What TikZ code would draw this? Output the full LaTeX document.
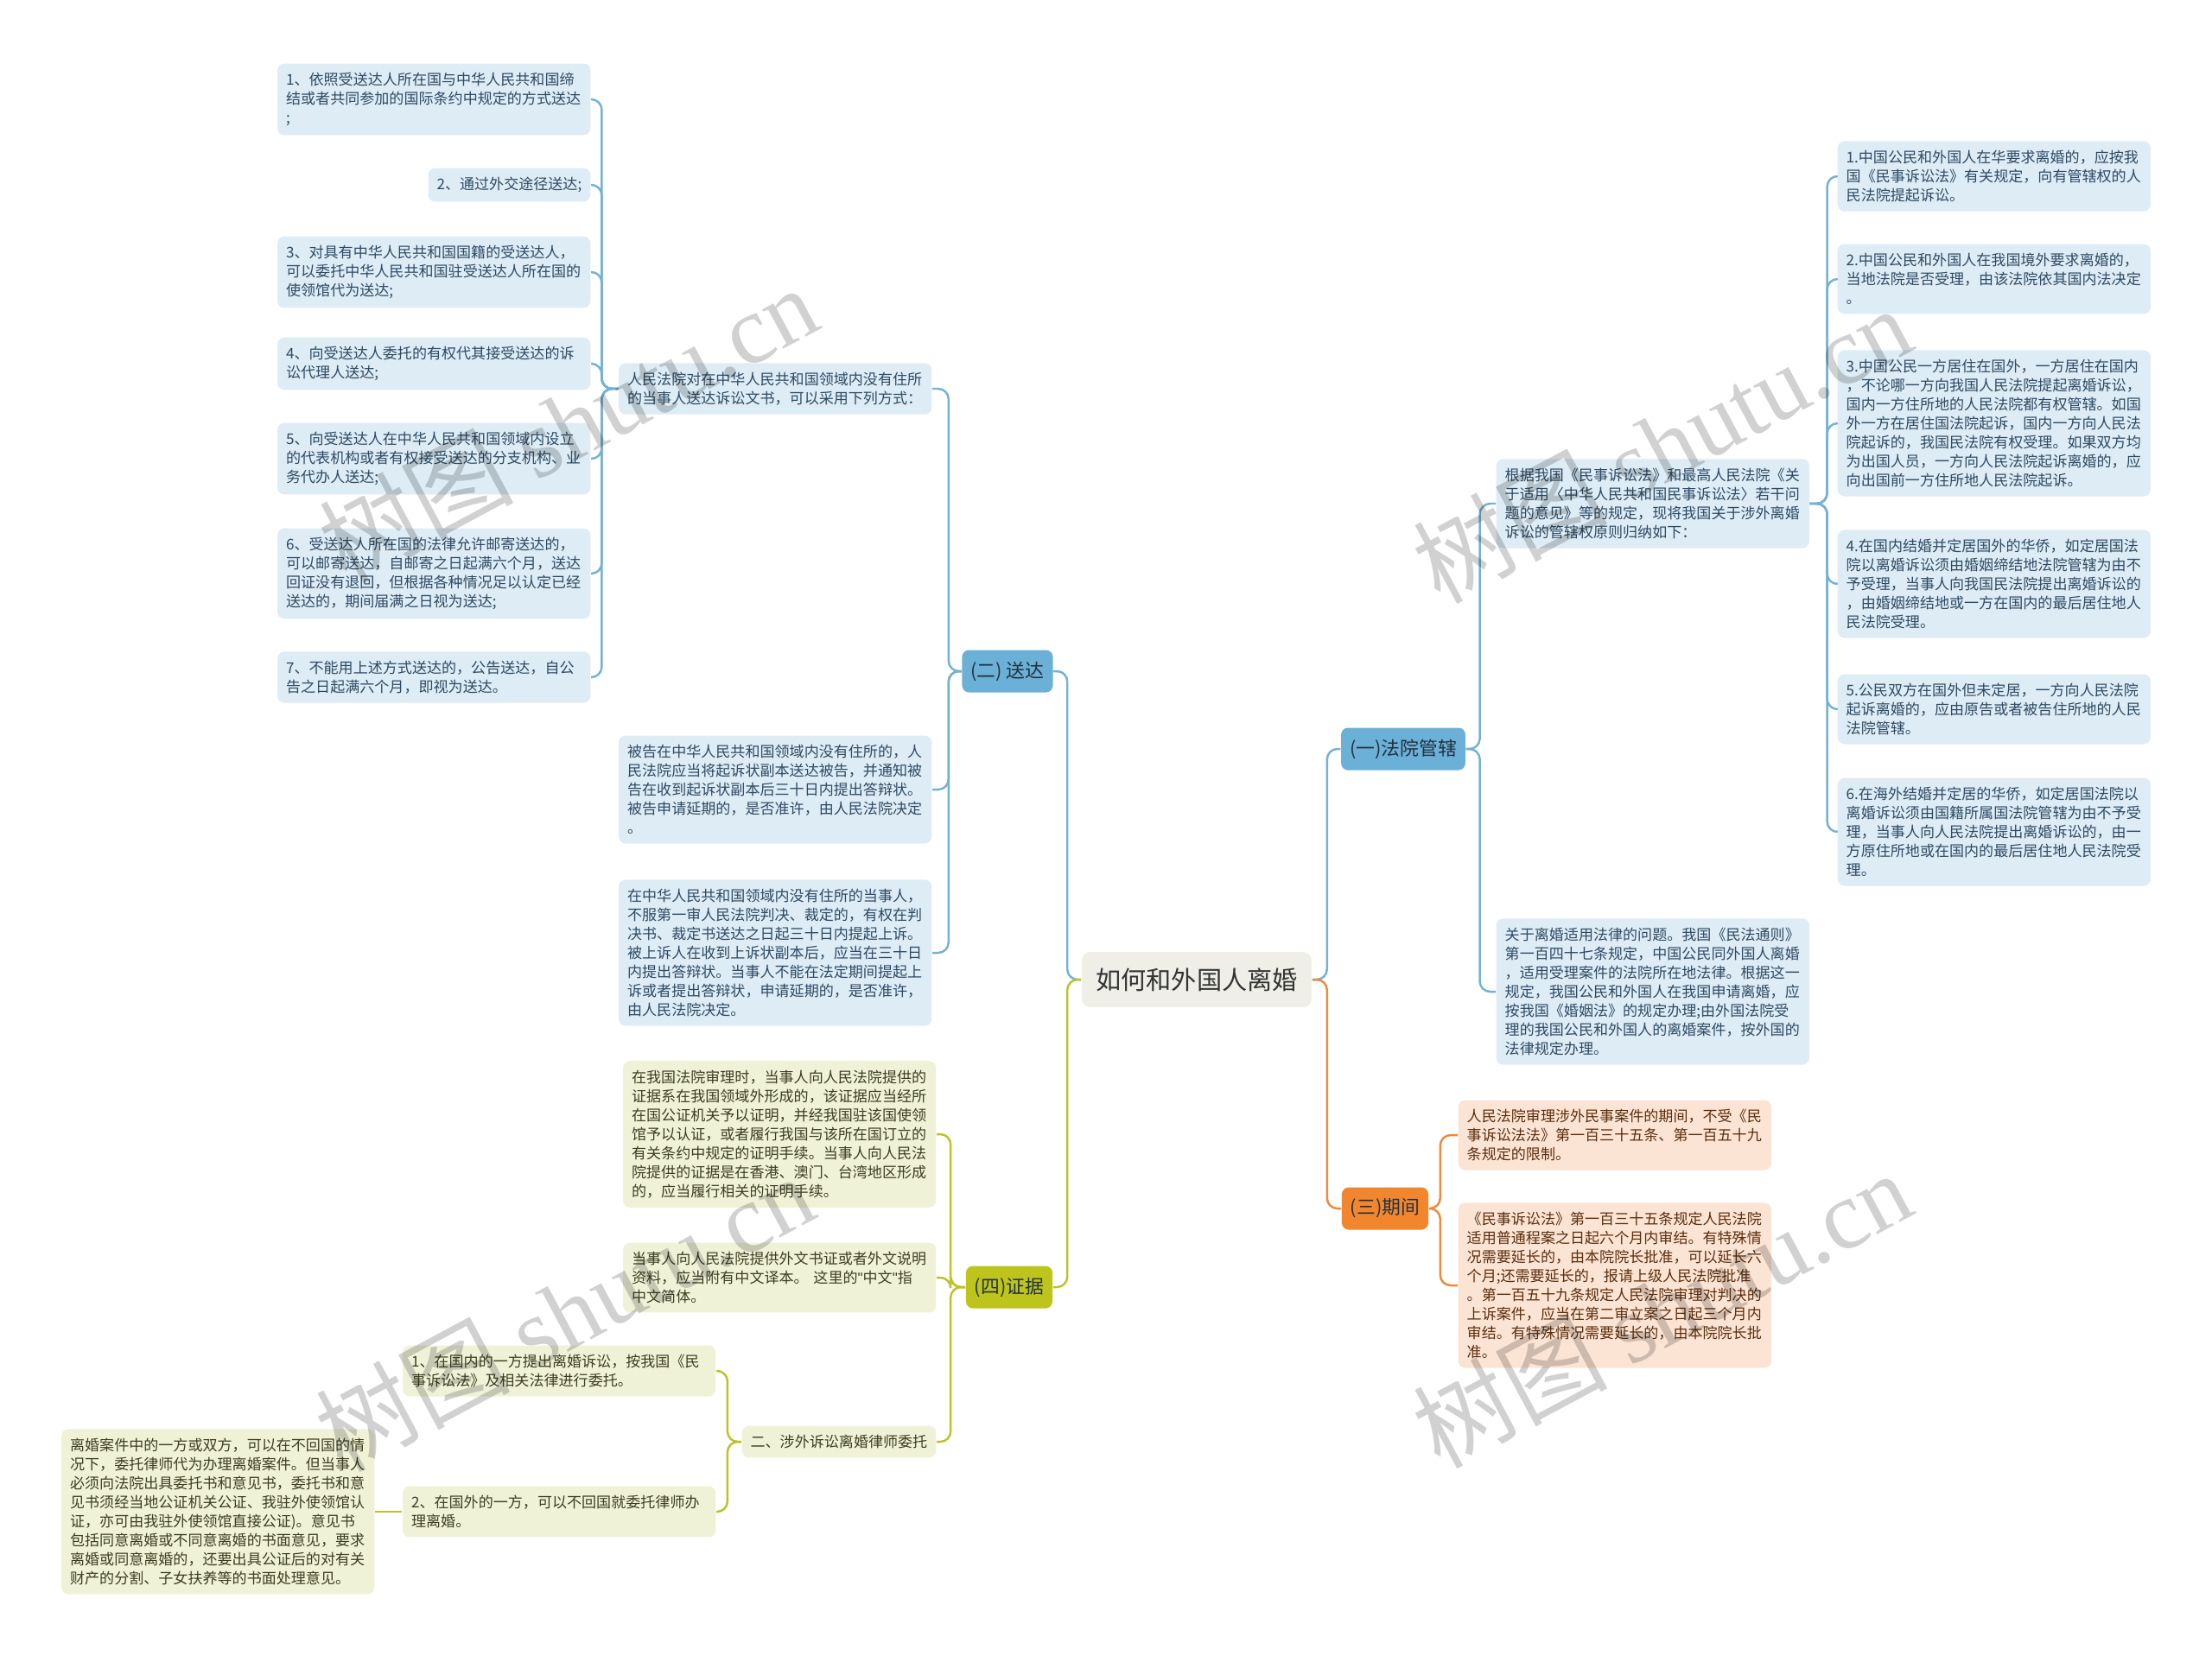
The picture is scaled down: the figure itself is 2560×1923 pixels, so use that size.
\documentclass[tikz,border=0pt]{standalone}
\usepackage{fontspec}
\setmainfont{Noto Sans CJK SC}
\newfontfamily\wmfont{Liberation Serif}
\newfontfamily\quotefont{Liberation Sans}

\definecolor{rootfill}{HTML}{EFEFE8}
\definecolor{rootink}{HTML}{333333}
\definecolor{topicink}{HTML}{22313F}
\definecolor{bluetopic}{HTML}{6BB0D6}
\definecolor{greentopic}{HTML}{BDC51C}
\definecolor{orangetopic}{HTML}{F2862F}
\definecolor{bluefill}{HTML}{DDECF5}
\definecolor{blueink}{HTML}{2E4A62}
\definecolor{greenfill}{HTML}{F0F2D8}
\definecolor{greenink}{HTML}{3D3D1F}
\definecolor{orangefill}{HTML}{FCE4D4}
\definecolor{orangeink}{HTML}{5A2E0E}
\definecolor{blueline}{HTML}{74B2D4}
\definecolor{greenline}{HTML}{BCC32A}
\definecolor{orangeline}{HTML}{EE8A3A}

\begin{document}
\begin{tikzpicture}[
    x=0.01cm, y=-0.01cm,
    rootbox/.style={fill=rootfill, rounded corners=0.1cm, text=rootink, font=\fontsize{8.3pt}{10pt}\selectfont, minimum width=2.66cm, minimum height=0.64cm},
    topic/.style={rounded corners=0.08cm, text=topicink, font=\fontsize{6.2pt}{7.5pt}\selectfont, minimum height=0.49cm, inner xsep=0.1cm},
    leaf/.style={rounded corners=0.08cm, align=left, inner xsep=0.1cm, inner ysep=0.105cm, font=\fontsize{4.85pt}{6.27pt}\selectfont, execute at end node={\vphantom{国}}},
    wide/.style={text width=3.42cm},
    bleaf/.style={leaf, fill=bluefill, text=blueink},
    gleaf/.style={leaf, fill=greenfill, text=greenink},
    oleaf/.style={leaf, fill=orangefill, text=orangeink},
    bline/.style={draw=blueline, line width=0.7pt, rounded corners=0.12cm},
    gline/.style={draw=greenline, line width=0.7pt, rounded corners=0.12cm},
    oline/.style={draw=orangeline, line width=0.7pt, rounded corners=0.12cm},
    watermark/.style={font=\fontsize{32pt}{32pt}\selectfont, text=black, text opacity=0.18, rotate=28.2}
]

% 画布大小与参考图一致
\useasboundingbox (0,0) rectangle (2560,1923);

% 中心主题
\node[rootbox] (root) at (1385,1134) {如何和外国人离婚};

% 一级分支
\node[topic, fill=bluetopic] (sd) at (1166,777) {(二) 送达};
\node[topic, fill=greentopic] (zj) at (1168,1490) {(四)证据};
\node[topic, fill=bluetopic] (gx) at (1624,867) {(一)法院管辖};
\node[topic, fill=orangetopic] (qj) at (1603,1399) {(三)期间};

% (二) 送达
\node[bleaf, wide, anchor=east] (sdA) at (1079,450) {人民法院对在中华人民共和国领域内没有住所\\的当事人送达诉讼文书，可以采用下列方式：};
\node[bleaf, wide, anchor=east] (sdB) at (1079,914) {被告在中华人民共和国领域内没有住所的，人\\民法院应当将起诉状副本送达被告，并通知被\\告在收到起诉状副本后三十日内提出答辩状。\\被告申请延期的，是否准许，由人民法院决定\\。};
\node[bleaf, wide, anchor=east] (sdC) at (1079,1103) {在中华人民共和国领域内没有住所的当事人，\\不服第一审人民法院判决、裁定的，有权在判\\决书、裁定书送达之日起三十日内提起上诉。\\被上诉人在收到上诉状副本后，应当在三十日\\内提出答辩状。当事人不能在法定期间提起上\\诉或者提出答辩状，申请延期的，是否准许，\\由人民法院决定。};

% 送达方式
\node[bleaf, wide, anchor=east] (fs1) at (684,115) {1、依照受送达人所在国与中华人民共和国缔\\结或者共同参加的国际条约中规定的方式送达\\;};
\node[bleaf, anchor=east] (fs2) at (684,214) {2、通过外交途径送达;};
\node[bleaf, wide, anchor=east] (fs3) at (684,315) {3、对具有中华人民共和国国籍的受送达人，\\可以委托中华人民共和国驻受送达人所在国的\\使领馆代为送达;};
\node[bleaf, wide, anchor=east] (fs4) at (684,421) {4、向受送达人委托的有权代其接受送达的诉\\讼代理人送达;};
\node[bleaf, wide, anchor=east] (fs5) at (684,531) {5、向受送达人在中华人民共和国领域内设立\\的代表机构或者有权接受送达的分支机构、业\\务代办人送达;};
\node[bleaf, wide, anchor=east] (fs6) at (684,664) {6、受送达人所在国的法律允许邮寄送达的，\\可以邮寄送达，自邮寄之日起满六个月，送达\\回证没有退回，但根据各种情况足以认定已经\\送达的，期间届满之日视为送达;};
\node[bleaf, wide, anchor=east] (fs7) at (684,784) {7、不能用上述方式送达的，公告送达，自公\\告之日起满六个月，即视为送达。};

% (一)法院管辖
\node[bleaf, wide, anchor=west] (gxD) at (1731,583) {根据我国《民事诉讼法》和最高人民法院《关\\于适用〈中华人民共和国民事诉讼法〉若干问\\题的意见》等的规定，现将我国关于涉外离婚\\诉讼的管辖权原则归纳如下：};
\node[bleaf, wide, anchor=west] (gxE) at (1731,1148) {关于离婚适用法律的问题。我国《民法通则》\\第一百四十七条规定，中国公民同外国人离婚\\，适用受理案件的法院所在地法律。根据这一\\规定，我国公民和外国人在我国申请离婚，应\\按我国《婚姻法》的规定办理;由外国法院受\\理的我国公民和外国人的离婚案件，按外国的\\法律规定办理。};

% 管辖原则
\node[bleaf, wide, anchor=west] (gz1) at (2126,204) {1.中国公民和外国人在华要求离婚的，应按我\\国《民事诉讼法》有关规定，向有管辖权的人\\民法院提起诉讼。};
\node[bleaf, wide, anchor=west] (gz2) at (2126,323) {2.中国公民和外国人在我国境外要求离婚的，\\当地法院是否受理，由该法院依其国内法决定\\。};
\node[bleaf, wide, anchor=west] (gz3) at (2126,490) {3.中国公民一方居住在国外，一方居住在国内\\，不论哪一方向我国人民法院提起离婚诉讼，\\国内一方住所地的人民法院都有权管辖。如国\\外一方在居住国法院起诉，国内一方向人民法\\院起诉的，我国民法院有权受理。如果双方均\\为出国人员，一方向人民法院起诉离婚的，应\\向出国前一方住所地人民法院起诉。};
\node[bleaf, wide, anchor=west] (gz4) at (2126,676) {4.在国内结婚并定居国外的华侨，如定居国法\\院以离婚诉讼须由婚姻缔结地法院管辖为由不\\予受理，当事人向我国民法院提出离婚诉讼的\\，由婚姻缔结地或一方在国内的最后居住地人\\民法院受理。};
\node[bleaf, wide, anchor=west] (gz5) at (2126,821) {5.公民双方在国外但未定居，一方向人民法院\\起诉离婚的，应由原告或者被告住所地的人民\\法院管辖。};
\node[bleaf, wide, anchor=west] (gz6) at (2126,963) {6.在海外结婚并定居的华侨，如定居国法院以\\离婚诉讼须由国籍所属国法院管辖为由不予受\\理，当事人向人民法院提出离婚诉讼的，由一\\方原住所地或在国内的最后居住地人民法院受\\理。};

% (三)期间
\node[oleaf, wide, anchor=west] (qjF) at (1687,1314) {人民法院审理涉外民事案件的期间，不受《民\\事诉讼法法》第一百三十五条、第一百五十九\\条规定的限制。};
\node[oleaf, wide, anchor=west] (qjG) at (1687,1488) {《民事诉讼法》第一百三十五条规定人民法院\\适用普通程案之日起六个月内审结。有特殊情\\况需要延长的，由本院院长批准，可以延长六\\个月;还需要延长的，报请上级人民法院批准\\。第一百五十九条规定人民法院审理对判决的\\上诉案件，应当在第二审立案之日起三个月内\\审结。有特殊情况需要延长的，由本院院长批\\准。};

% (四)证据
\node[gleaf, wide, anchor=east] (zjH) at (1084,1313) {在我国法院审理时，当事人向人民法院提供的\\证据系在我国领域外形成的，该证据应当经所\\在国公证机关予以证明，并经我国驻该国使领\\馆予以认证，或者履行我国与该所在国订立的\\有关条约中规定的证明手续。当事人向人民法\\院提供的证据是在香港、澳门、台湾地区形成\\的，应当履行相关的证明手续。};
\node[gleaf, wide, anchor=east] (zjI) at (1084,1479) {当事人向人民法院提供外文书证或者外文说明\\资料，应当附有中文译本。\mbox{ 这里的{\quotefont"}中文{\quotefont"}指}\\中文简体。};
\node[gleaf, anchor=east] (zjJ) at (1084,1669) {二、涉外诉讼离婚律师委托};

% 律师委托
\node[gleaf, wide, anchor=east] (wtK) at (829,1587) {1、在国内的一方提出离婚诉讼，按我国《民\\事诉讼法》及相关法律进行委托。};
\node[gleaf, wide, anchor=east] (wtL) at (829,1750) {2、在国外的一方，可以不回国就委托律师办\\理离婚。};
\node[gleaf, wide, anchor=east] (wtM) at (434,1750) {离婚案件中的一方或双方，可以在不回国的情\\况下，委托律师代为办理离婚案件。但当事人\\必须向法院出具委托书和意见书，委托书和意\\见书须经当地公证机关公证、我驻外使领馆认\\证，亦可由我驻外使领馆直接公证)。意见书\\包括同意离婚或不同意离婚的书面意见，要求\\离婚或同意离婚的，还要出具公证后的对有关\\财产的分割、子女扶养等的书面处理意见。};

% 连线
\draw[bline] (root.west) -- ++(-16,0) |- (sd.east);
\draw[gline] (root.west) -- ++(-16,0) |- (zj.east);
\draw[bline] (root.east) -- ++(17,0) |- (gx.west);
\draw[oline] (root.east) -- ++(17,0) |- (qj.west);

\foreach \c in {sdA, sdB, sdC}
    \draw[bline] (sd.west) -- ++(-15,0) |- (\c.east);
\foreach \c in {fs1, fs2, fs3, fs4, fs5, fs6, fs7}
    \draw[bline] (sdA.west) -- ++(-19,0) |- (\c.east);
\foreach \c in {gxD, gxE}
    \draw[bline] (gx.east) -- ++(16,0) |- (\c.west);
\foreach \c in {gz1, gz2, gz3, gz4, gz5, gz6}
    \draw[bline] (gxD.east) -- ++(20,0) |- (\c.west);
\foreach \c in {qjF, qjG}
    \draw[oline] (qj.east) -- ++(13,0) |- (\c.west);
\foreach \c in {zjH, zjI, zjJ}
    \draw[gline] (zj.west) -- ++(-17,0) |- (\c.east);
\foreach \c in {wtK, wtL}
    \draw[gline] (zjJ.west) -- ++(-16,0) |- (\c.east);
\draw[gline] (wtL.west) -- (wtM.east);

% 水印
\foreach \p in {(657,490), (1923,514), (653,1519), (1923,1515)}
    \node[watermark] at \p {树图 {\wmfont shutu.cn}};

\end{tikzpicture}
\end{document}
